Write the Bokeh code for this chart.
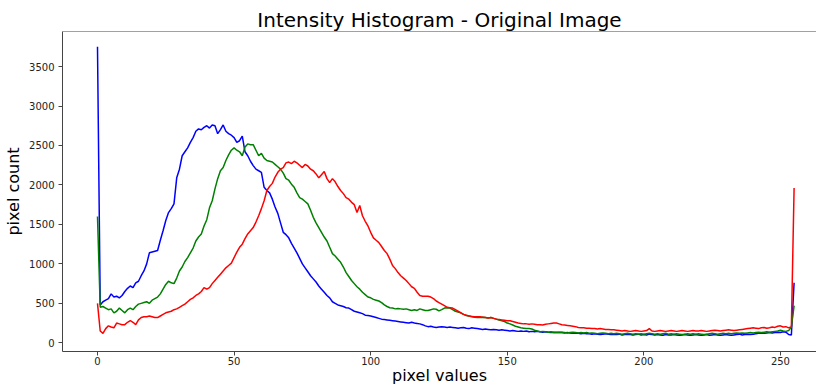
from bokeh.plotting import figure
from bokeh.models import Range1d, FixedTicker, Span
from bokeh.embed import file_html
from bokeh.resources import INLINE

pixel_values = list(range(256))

blue_counts = [
    3750, 480, 520, 540, 560, 620, 580, 590, 570, 600,
    650, 690, 720, 700, 760, 780, 850, 910, 1000, 1140,
    1150, 1160, 1170, 1300, 1420, 1550, 1650, 1700, 1760, 2090,
    2200, 2370, 2420, 2470, 2540, 2600, 2680, 2710, 2700, 2730,
    2750, 2720, 2760, 2750, 2650, 2700, 2760, 2680, 2650, 2630,
    2600, 2540, 2560, 2620, 2420, 2370, 2300, 2245, 2200, 2180,
    2160, 1970, 1930, 1900, 1820, 1720, 1640, 1520, 1400, 1370,
    1330, 1260, 1200, 1140, 1070, 1000, 950, 900, 850, 810,
    770, 720, 680, 640, 600, 570, 520, 500, 480, 470,
    460, 445, 440, 420, 400, 390, 380, 370, 350, 345,
    340, 330, 320, 310, 300, 295, 290, 285, 280, 275,
    270, 265, 260, 255, 250, 260, 250, 245, 240, 230,
    215, 205, 210, 200, 195, 200, 205, 200, 195, 200,
    195, 190, 185, 190, 195, 185, 180, 190, 185, 180,
    175, 170, 175, 170, 165, 170, 165, 160, 165, 160,
    155, 150, 155, 150, 145, 150, 145, 150, 140, 145,
    140, 145, 140, 135, 140, 135, 130, 135, 130, 135,
    130, 125, 130, 125, 120, 125, 120, 115, 120, 115,
    115, 110, 115, 110, 105, 110, 115, 110, 105, 110,
    105, 110, 100, 105, 110, 105, 100, 105, 110, 100,
    105, 100, 110, 105, 100, 105, 100, 95, 105, 100,
    100, 105, 100, 95, 100, 105, 100, 95, 100, 105,
    100, 95, 100, 105, 95, 100, 105, 100, 95, 100,
    105, 100, 95, 100, 105, 110, 100, 105, 110, 105,
    110, 115, 120, 125, 120, 125, 130, 125, 130, 135,
    130, 140, 135, 105, 100, 760,
]

green_counts = [
    1600, 450, 460, 440, 420, 430, 380, 400, 440, 410,
    380, 420, 440, 420, 460, 490, 500, 510, 520, 500,
    540, 560, 580, 620, 680, 740, 780, 760, 750, 820,
    910, 960, 1030, 1080, 1140, 1200, 1290, 1340, 1380, 1480,
    1560, 1710, 1800, 1950, 2080, 2180, 2220, 2310, 2380, 2440,
    2470, 2440, 2420, 2370, 2480, 2520, 2510, 2510, 2440, 2370,
    2400, 2340, 2310, 2300, 2290, 2260, 2230, 2200, 2150, 2080,
    2060, 2010, 1970, 1900, 1840, 1820, 1790, 1760, 1680, 1590,
    1520, 1460, 1400, 1340, 1290, 1210, 1130, 1100, 1060, 1020,
    960, 890, 840, 790, 750, 710, 680, 640, 610, 580,
    570, 550, 540, 530, 510, 480, 460, 445, 440, 430,
    435, 430, 425, 430, 420, 410, 420, 410, 430, 420,
    410, 410, 420, 430, 425, 405, 420, 440, 445, 440,
    420, 400, 390, 380, 360, 345, 340, 330, 325, 320,
    320, 325, 320, 315, 320, 310, 300, 290, 280, 270,
    250, 240, 225, 210, 200, 190, 185, 180, 180, 175,
    160, 150, 140, 145, 140, 135, 140, 130, 135, 130,
    135, 130, 125, 130, 135, 130, 125, 130, 125, 130,
    120, 125, 120, 115, 120, 125, 120, 115, 120, 115,
    120, 115, 110, 115, 120, 115, 110, 115, 110, 115,
    110, 115, 120, 115, 110, 115, 110, 115, 120, 110,
    115, 110, 115, 110, 105, 110, 115, 110, 115, 110,
    115, 110, 105, 110, 115, 120, 115, 110, 115, 120,
    115, 120, 115, 120, 125, 120, 125, 120, 125, 130,
    125, 130, 135, 130, 135, 140, 135, 140, 145, 150,
    160, 150, 145, 155, 200, 470,
]

red_counts = [
    500, 150, 120, 180, 215, 200, 190, 250, 240, 230,
    230, 260, 280, 260, 230, 290, 320, 330, 330, 340,
    330, 320, 320, 340, 360, 380, 390, 400, 420, 430,
    450, 470, 490, 520, 550, 570, 600, 620, 650, 700,
    680, 700, 750, 790, 830, 870, 910, 950, 980, 1010,
    1080, 1150, 1210, 1250, 1320, 1380, 1420, 1460, 1530, 1610,
    1700, 1800, 1930, 1980, 2020, 2100, 2160, 2200, 2220, 2280,
    2290, 2270, 2300, 2280, 2250, 2220, 2260, 2240, 2200, 2180,
    2140, 2090, 2130, 2170, 2080, 2030, 2080, 2040, 1980, 1930,
    1890, 1840, 1820, 1780, 1750, 1650, 1740, 1610, 1540, 1480,
    1400, 1330, 1300, 1270, 1220, 1170, 1130, 1060, 980, 940,
    890, 850, 820, 790, 750, 710, 690, 640, 600, 590,
    590, 590, 580, 560, 530, 510, 490, 470, 450, 445,
    440, 420, 400, 380, 360, 350, 340, 335, 330, 330,
    330, 325, 320, 315, 320, 310, 300, 295, 290, 285,
    280, 280, 270, 260, 250, 245, 240, 240, 235, 240,
    235, 230, 230, 225, 235, 240, 245, 250, 250, 240,
    230, 225, 220, 215, 210, 205, 195, 190, 190, 185,
    185, 180, 180, 175, 180, 175, 170, 170, 165, 165,
    160, 155, 150, 155, 150, 145, 150, 155, 150, 145,
    150, 155, 180, 150, 145, 150, 155, 150, 145, 150,
    155, 150, 145, 150, 155, 150, 145, 150, 155, 150,
    150, 155, 150, 145, 150, 155, 160, 155, 150, 155,
    160, 165, 160, 155, 160, 165, 170, 175, 180, 185,
    190, 185, 180, 190, 195, 185, 190, 200, 195, 210,
    215, 200, 205, 190, 200, 1960,
]

x_ticks = [0, 50, 100, 150, 200, 250]
y_ticks = [0, 500, 1000, 1500, 2000, 2500, 3000, 3500]

title_text = "Intensity Histogram - Original Image"
x_label = "pixel values"
y_label = "pixel count"

FONT = "DejaVu Sans"
SPINE = "#444444"

p = figure(width=816, height=387, output_backend="svg", toolbar_location=None,
           x_range=Range1d(-12.81, 263.2), y_range=Range1d(-110, 3944),
           min_border_left=62, min_border_right=0, min_border_top=31,
           min_border_bottom=36)

p.title.text = title_text
p.title.text_font = FONT
p.title.text_font_size = "20px"
p.title.text_font_style = "normal"
p.title.align = "center"
p.title.text_color = "black"
p.title.standoff = 0
p.title.offset = 0

p.xgrid.visible = False
p.ygrid.visible = False
p.outline_line_color = None
p.background_fill_color = "white"
p.border_fill_color = "white"

top_spine = Span(location=3944, dimension="width", line_color=SPINE, line_width=1)
p.add_layout(top_spine)

for ax in (p.xaxis[0], p.yaxis[0]):
    ax.axis_line_color = SPINE
    ax.major_tick_line_color = SPINE
    ax.minor_tick_line_color = None
    ax.major_tick_in = 0
    ax.major_tick_out = 4
    ax.major_label_text_font = FONT
    ax.major_label_text_font_size = "10px"
    ax.major_label_text_color = "#222222"
    ax.axis_label_text_font = FONT
    ax.axis_label_text_font_size = "16px"
    ax.axis_label_text_font_style = "normal"
    ax.axis_label_text_color = "black"

p.xaxis.ticker = FixedTicker(ticks=x_ticks)
p.yaxis.ticker = FixedTicker(ticks=y_ticks)
p.xaxis.major_label_standoff = 1
p.yaxis.major_label_standoff = 4

p.yaxis.axis_label = y_label
p.yaxis.axis_label_standoff = 3
p.xaxis.axis_label = x_label
p.xaxis.axis_label_standoff = -2

p.line(pixel_values, blue_counts, color="blue", line_width=1.5)
p.line(pixel_values, green_counts, color="green", line_width=1.5)
p.line(pixel_values, red_counts, color="red", line_width=1.5)

open("out.html", "w").write(file_html(p, INLINE))
